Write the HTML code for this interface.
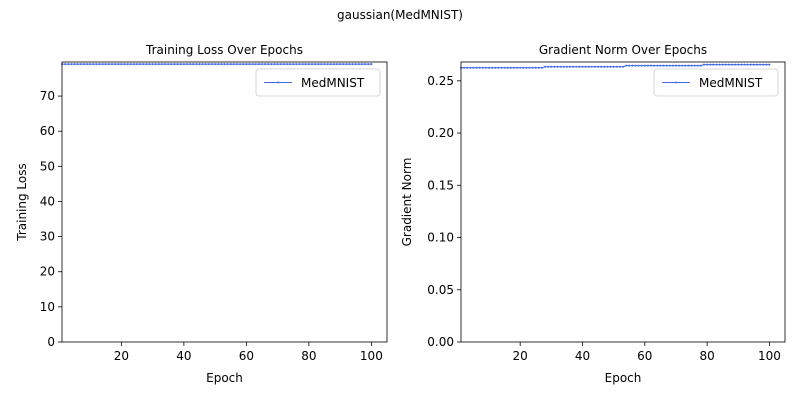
<!DOCTYPE html>
<html><head><meta charset="utf-8"><style>
body{margin:0;background:#fff;font-family:"Liberation Sans","DejaVu Sans",sans-serif}
svg text{font-family:"DejaVu Sans","Liberation Sans",sans-serif;fill:#000}
</style></head><body>
<svg id="c" width="800" height="400" xmlns="http://www.w3.org/2000/svg">
<rect width="800" height="400" fill="#fff"/>
<text x="400" y="19" font-size="12" text-anchor="middle">gaussian(MedMNIST)</text>
</svg>
<script>
const epochs = Array.from({length:100},(_,i)=>i+1);
const lossValues = epochs.map(e=>79.1);
const gradValues = epochs.map(e=> e<=27?0.2625:(e<=53?0.2635:(e<=78?0.2645:0.2655)));
const xTicks = [20,40,60,80,100];
const lossTicks = [0,10,20,30,40,50,60,70];
const gradTicks = [0,0.05,0.10,0.15,0.20,0.25];
const gradTickLabels = ["0.00","0.05","0.10","0.15","0.20","0.25"];
const svg = document.getElementById('c');
const NS = 'http://www.w3.org/2000/svg';
function mk(tag, attrs, parent){const e=document.createElementNS(NS,tag);for(const k in attrs)e.setAttribute(k,attrs[k]);(parent||svg).appendChild(e);return e;}
function panel(p){
  const g = mk('g',{});
  
  
  const X = v => p.x0 + (v - p.xmin)/(p.xmax-p.xmin)*(p.x1-p.x0);
  const Y = v => p.y1 - (v - p.ymin)/(p.ymax-p.ymin)*(p.y1-p.y0);
  const t = mk('text',{x:(p.x0+p.x1)/2,y:p.y0-8,'font-size':12,'text-anchor':'middle'},g);
  t.textContent = p.title;
  
  
  xTicks.forEach(v=>{
    mk('line',{x1:X(v),x2:X(v),y1:p.y1,y2:p.y1+4,stroke:'#000','stroke-width':0.8},g);
    const l = mk('text',{x:X(v),y:p.y1+18,'font-size':12,'text-anchor':'middle'},g);
    l.textContent = v;
    
    
  });
  p.yTicks.forEach((v,i)=>{
    mk('line',{x1:p.x0-4,x2:p.x0,y1:Y(v),y2:Y(v),stroke:'#000','stroke-width':0.8},g);
    const l = mk('text',{x:p.x0-7,y:Y(v)+4,'font-size':12,'text-anchor':'end'},g);
    l.textContent = p.yLabels[i];
    
    
  });
  const xl = mk('text',{x:(p.x0+p.x1)/2,y:p.y1+40,'font-size':12,'text-anchor':'middle'},g);
  xl.textContent = 'Epoch';
  
  
  const yx = p.ytx, yy=(p.y0+p.y1)/2;
  const yl = mk('text',{x:yx,y:yy,'font-size':12,'text-anchor':'middle',transform:`rotate(-90 ${yx} ${yy})`},g);
  yl.textContent = p.ytitle;
  
  
  const pts = epochs.map((e,i)=>X(e).toFixed(2)+','+Y(p.vals[i]).toFixed(2)).join(' ');
  const line = mk('polyline',{points:pts,fill:'none',stroke:'#4169e1','stroke-width':1},g);
  
  
  epochs.forEach((e,i)=>{
    const c = mk('circle',{cx:X(e),cy:Y(p.vals[i]),r:1,fill:'#4169e1'},g);
    
    
  });
  const fr = mk('rect',{x:p.x0,y:p.y0,width:p.x1-p.x0,height:p.y1-p.y0,fill:'none',stroke:'#000','stroke-width':0.8},g);
  
  
  const lg = mk('g',{},g);
  
  
  const lx = p.x1-131, ly = p.y0+7;
  mk('rect',{x:lx,y:ly,width:124,height:27,rx:3,fill:'#fff',stroke:'#ccc','stroke-width':0.8},lg);
  mk('line',{x1:lx+8,x2:lx+36,y1:ly+13.5,y2:ly+13.5,stroke:'#4169e1','stroke-width':1},lg);
  mk('circle',{cx:lx+22,cy:ly+13.5,r:1,fill:'#4169e1'},lg);
  const lt = mk('text',{x:lx+45,y:ly+18,'font-size':12},lg);
  lt.textContent = 'MedMNIST';
  
  
}
panel({name:'training-loss-panel',title:'Training Loss Over Epochs',x0:62,x1:387,y0:62,y1:342,xmin:1,xmax:105,ymin:0,ymax:79.7,
  yTicks:lossTicks,yLabels:lossTicks.map(String),vals:lossValues,ytitle:'Training Loss',ytx:26});
panel({name:'gradient-norm-panel',title:'Gradient Norm Over Epochs',x0:461,x1:785,y0:62,y1:342,xmin:1,xmax:105,ymin:0,ymax:0.268,
  yTicks:gradTicks,yLabels:gradTickLabels,vals:gradValues,ytitle:'Gradient Norm',ytx:411});
</script>
</body></html>
